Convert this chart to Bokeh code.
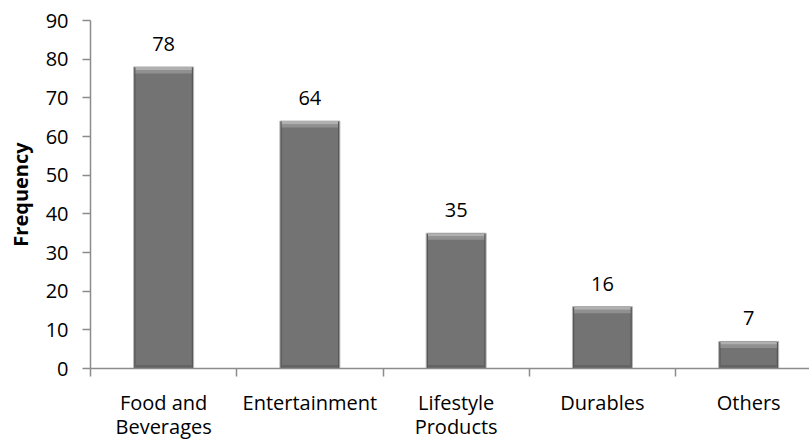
from bokeh.plotting import figure
from bokeh.models import Range1d, FixedTicker, ColumnDataSource, LabelSet
from bokeh.embed import file_html
from bokeh.resources import INLINE
from bokeh.core.properties import value

categories = ["Food and\nBeverages", "Entertainment", "Lifestyle\nProducts", "Durables", "Others"]
frequency = [78, 64, 35, 16, 7]
y_ticks = [0, 10, 20, 30, 40, 50, 60, 70, 80, 90]

FONT = "Open Sans"
n = len(categories)
xs = [i + 0.5 for i in range(n)]

src = ColumnDataSource(dict(
    x=xs, top=frequency, label=[str(v) for v in frequency],
    bevel1=[v - 0.8 for v in frequency], bevel2=[v - 1.7 for v in frequency],
))

p = figure(width=809, height=443, output_backend="svg", toolbar_location=None,
           x_range=Range1d(0, 4.916), y_range=Range1d(0, 90),
           min_border_left=90, min_border_right=0, min_border_top=20, min_border_bottom=74)
p.outline_line_color = None
p.xgrid.visible = False
p.ygrid.visible = False
p.background_fill_color = "white"
p.border_fill_color = "white"

# bars: dark edge, lighter body, light bevel at top, darker foot
p.vbar(x="x", top="top", width=0.41, bottom=0, source=src,
       fill_color="#575757", line_color="#b8b8b8", line_width=1)
p.vbar(x="x", top="top", width=0.385, bottom=0, source=src,
       fill_color="#737373", line_color=None)
p.vbar(x="x", top="bevel1", bottom="bevel2", width=0.385, source=src,
       fill_color="#909090", line_color=None)
p.vbar(x="x", top="top", bottom="bevel1", width=0.385, source=src,
       fill_color="#b0b0b0", line_color=None)
p.vbar(x="x", top=0.9, bottom=0, width=0.385, source=src,
       fill_color="#636363", line_color=None)

labels = LabelSet(x="x", y="top", text="label", source=src, text_align="center",
                  text_baseline="bottom", y_offset=16, text_font=value(FONT),
                  text_font_size="20px", text_color="#000000")
p.add_layout(labels)

# y axis
p.yaxis.ticker = FixedTicker(ticks=y_ticks)
p.yaxis.axis_label = "Frequency"
p.yaxis.axis_label_text_font = FONT
p.yaxis.axis_label_text_font_style = "bold"
p.yaxis.axis_label_text_font_size = "20px"
p.yaxis.axis_label_text_color = "#000000"
p.yaxis.axis_label_standoff = 9
p.yaxis.major_label_text_font = FONT
p.yaxis.major_label_text_font_size = "20px"
p.yaxis.major_label_text_color = "#000000"
p.yaxis.major_label_standoff = 14
p.yaxis.major_tick_out = 8
p.yaxis.major_tick_in = 0
p.yaxis.minor_tick_out = 0
p.yaxis.minor_tick_in = 0
p.yaxis.axis_line_color = "#8c8c8c"
p.yaxis.major_tick_line_color = "#8c8c8c"
p.yaxis.axis_line_width = 1.5
p.yaxis.major_tick_line_width = 1.5

# x axis: labels at category centres, tick marks at category boundaries
p.xaxis.ticker = FixedTicker(ticks=xs, minor_ticks=[float(i) for i in range(n + 1)])
p.xaxis.major_label_overrides = {x: c for x, c in zip(xs, categories)}
p.xaxis.major_label_text_font = FONT
p.xaxis.major_label_text_font_size = "20px"
p.xaxis.major_label_text_color = "#000000"
p.xaxis.major_label_text_line_height = 0.92
p.xaxis.major_label_standoff = 12
p.xaxis.major_tick_out = 0
p.xaxis.major_tick_in = 0
p.xaxis.minor_tick_out = 8
p.xaxis.minor_tick_in = 0
p.xaxis.axis_line_color = "#8c8c8c"
p.xaxis.minor_tick_line_color = "#8c8c8c"
p.xaxis.axis_line_width = 1.5
p.xaxis.minor_tick_line_width = 1.5

open("out.html", "w").write(file_html(p, INLINE))
